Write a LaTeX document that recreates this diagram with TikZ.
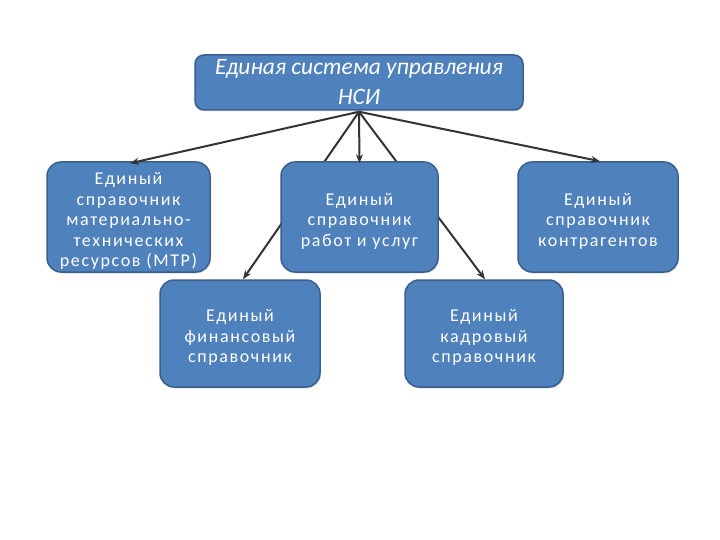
\documentclass[tikz,border=0pt]{standalone}
\usepackage{fontspec}
\setmainfont{Carlito}
\newfontfamily\boxfont[LetterSpace=9]{Carlito}
\usetikzlibrary{arrows.meta,shadows,backgrounds}
\definecolor{boxfill}{HTML}{4F81BD}
\definecolor{boxline}{HTML}{3A5F8E}
\definecolor{arrowc}{HTML}{333333}
\newcommand{\dropstrut}{\rule{0pt}{20pt}}
\tikzset{
  blockbox/.style={draw=boxline, line width=1.5pt, fill=boxfill, rounded corners=14pt,
    text=white, align=center, inner sep=2pt,
    drop shadow={opacity=0.25, shadow xshift=1pt, shadow yshift=-1.5pt},
    font=\boxfont\fontsize{18}{20.5}\selectfont},
  topbox/.style={blockbox, rounded corners=9pt, font=\rmfamily\itshape\fontsize{23.5}{30}\selectfont},
  conn/.style={draw=arrowc, line width=2pt, -{Stealth[length=9pt,width=7pt]}}
}
\begin{document}
\begin{tikzpicture}[x=1pt,y=-1pt]
\useasboundingbox (0,0) rectangle (720,540);
\node[topbox, minimum width=328pt, minimum height=55pt] (top) at (359,82.5)
  {Единая система управления\\НСИ};
\node[blockbox, minimum width=163pt, minimum height=110pt] (mtr) at (128.5,217)
  {\dropstrut Единый\\справочник\\материально-\\технических\\ресурсов (МТР)};
\node[blockbox, minimum width=157pt, minimum height=110pt] (rab) at (359.5,217)
  {\dropstrut Единый\\справочник\\работ и услуг};
\node[blockbox, minimum width=160pt, minimum height=110pt] (kon) at (598,217)
  {\dropstrut Единый\\справочник\\контрагентов};
\node[blockbox, minimum width=160pt, minimum height=107pt] (fin) at (240,333.5)
  {\dropstrut Единый\\финансовый\\справочник};
\node[blockbox, minimum width=158pt, minimum height=107pt] (kad) at (484,333.5)
  {\dropstrut Единый\\кадровый\\справочник};
\coordinate (src) at ([yshift=-1pt]top.south);
\begin{pgfonlayer}{background}
\draw[conn] (src) -- ([xshift=3pt]fin.north);
\draw[conn] (src) -- ([xshift=1pt]kad.north);
\end{pgfonlayer}
\draw[conn] (src) -- ([xshift=1.5pt,yshift=-2pt]mtr.north);
\draw[conn] (src) -- ([yshift=-2pt]rab.north);
\draw[conn] (src) -- ([xshift=2pt]kon.north);
\end{tikzpicture}
\end{document}
